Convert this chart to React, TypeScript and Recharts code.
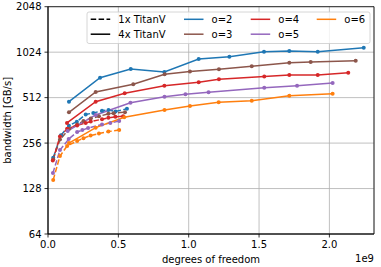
import React from 'react';
import { LineChart, Line, XAxis, YAxis, CartesianGrid, Label, ReferenceArea } from 'recharts';

const FONT = '"DejaVu Sans", sans-serif';

// degrees of freedom in units of 1e9, bandwidth in GB/s
const O2_4X_DOF = [0.149, 0.37, 0.588, 0.827, 1.071, 1.289, 1.535, 1.715, 1.917, 2.244];
const O2_4X_BW = [481, 694, 792, 757, 922, 955, 1031, 1042, 1031, 1096];
const O2_1X_DOF = [0.037, 0.092, 0.149, 0.205, 0.268, 0.322, 0.384, 0.43, 0.48, 0.561];
const O2_1X_BW = [205, 288, 334, 355, 396, 405, 419, 424, 415, 432];

const O3_4X_DOF = [0.149, 0.339, 0.606, 0.829, 1.009, 1.215, 1.448, 1.715, 1.867, 2.187];
const O3_4X_BW = [409, 558, 627, 731, 762, 790, 825, 872, 881, 899];
const O3_1X_DOF = [0.037, 0.085, 0.151, 0.207, 0.252, 0.304, 0.362, 0.429, 0.467, 0.547];
const O3_1X_BW = [200, 270, 318, 340, 358, 372, 385, 400, 404, 410];

const O4_4X_DOF = [0.135, 0.339, 0.545, 0.827, 1.071, 1.215, 1.537, 1.715, 1.917, 2.134];
const O4_4X_BW = [348, 481, 548, 614, 647, 678, 706, 723, 723, 749];
const O4_1X_DOF = [0.034, 0.085, 0.136, 0.207, 0.268, 0.304, 0.384, 0.429, 0.479, 0.534];
const O4_1X_BW = [196, 283, 318, 335, 348, 356, 368, 376, 382, 386];

const O5_4X_DOF = [0.14, 0.339, 0.586, 0.828, 0.977, 1.141, 1.537, 1.77, 2.023];
const O5_4X_BW = [308, 393, 474, 519, 539, 555, 596, 614, 640];
const O5_1X_DOF = [0.035, 0.085, 0.147, 0.207, 0.244, 0.285, 0.384, 0.443, 0.506];
const O5_1X_BW = [162, 230, 272, 303, 312, 322, 340, 348, 358];

const O6_4X_DOF = [0.149, 0.339, 0.542, 0.828, 1.009, 1.213, 1.448, 1.715, 2.023];
const O6_4X_BW = [256, 324, 379, 424, 450, 477, 488, 527, 543];
const O6_1X_DOF = [0.037, 0.085, 0.136, 0.207, 0.252, 0.303, 0.362, 0.429, 0.506];
const O6_1X_BW = [146, 210, 245, 264, 276, 287, 296, 305, 312];

const ORDER_NAMES = ['o=2', 'o=3', 'o=4', 'o=5', 'o=6'];
const ORDER_COLORS = ['#1f77b4', '#8c564b', '#d62728', '#9467bd', '#ff7f0e'];
const STYLE_NAMES = ['1x TitanV', '4x TitanV'];

const X_TICKS = [0, 0.5, 1.0, 1.5, 2.0];
const Y_TICKS = [64, 128, 256, 512, 1024, 2048];
const X_DOMAIN: [number, number] = [0, 2.317];
const Y_DOMAIN: [number, number] = [64, 2048];

const zip = (xs: number[], ys: number[]) => xs.map((x, i) => ({ dof: x, bw: ys[i] }));

const SERIES = [
  { four: zip(O2_4X_DOF, O2_4X_BW), one: zip(O2_1X_DOF, O2_1X_BW) },
  { four: zip(O3_4X_DOF, O3_4X_BW), one: zip(O3_1X_DOF, O3_1X_BW) },
  { four: zip(O4_4X_DOF, O4_4X_BW), one: zip(O4_1X_DOF, O4_1X_BW) },
  { four: zip(O5_4X_DOF, O5_4X_BW), one: zip(O5_1X_DOF, O5_1X_BW) },
  { four: zip(O6_4X_DOF, O6_4X_BW), one: zip(O6_1X_DOF, O6_1X_BW) },
].map((s, i) => ({ ...s, name: ORDER_NAMES[i], color: ORDER_COLORS[i] }));

const DASH = '5.5 2.4';
const textStyle = { fill: '#000', fontSize: 10, fontFamily: FONT };

function LegendOverlay() {
  const handle = 19.5;
  const rows = [19.3, 34.2];
  const entries: { x: number; row: number; label: string; color: string; dash?: string }[] = [
    { x: 90.7, row: 0, label: STYLE_NAMES[0], color: '#000', dash: DASH },
    { x: 90.7, row: 1, label: STYLE_NAMES[1], color: '#000' },
    { x: 184, row: 0, label: ORDER_NAMES[0], color: ORDER_COLORS[0] },
    { x: 184, row: 1, label: ORDER_NAMES[1], color: ORDER_COLORS[1] },
    { x: 250.7, row: 0, label: ORDER_NAMES[2], color: ORDER_COLORS[2] },
    { x: 250.7, row: 1, label: ORDER_NAMES[3], color: ORDER_COLORS[3] },
    { x: 316.7, row: 0, label: ORDER_NAMES[4], color: ORDER_COLORS[4] },
  ];
  return (
    <svg width={381} height={267} style={{ position: 'absolute', left: 0, top: 0, pointerEvents: 'none' }}>
      <rect x={87} y={12} width={283} height={31.5} rx={2} fill="#fff" fillOpacity={0.8} stroke="#cccccc" strokeWidth={0.8} />
      {entries.map((e, i) => (
        <g key={i}>
          <line x1={e.x} x2={e.x + handle} y1={rows[e.row]} y2={rows[e.row]} stroke={e.color} strokeWidth={1.5} strokeDasharray={e.dash} />
          <text x={e.x + 27.6} y={rows[e.row]} dominantBaseline="central" fontSize={10} fontFamily={FONT} fill="#000">
            {e.label}
          </text>
        </g>
      ))}
      <text x={374} y={258} dominantBaseline="central" textAnchor="end" fontSize={10} fontFamily={FONT} fill="#000">
        1e9
      </text>
    </svg>
  );
}

export default function App() {
  return (
    <div style={{ position: 'fixed', left: 0, top: 0, width: 381, height: 267, background: '#fff' }}>
      <LineChart width={381} height={267} margin={{ top: 6.7, right: 7, bottom: 0, left: 0 }}>
        <CartesianGrid stroke="#b0b0b0" strokeWidth={0.8} />
        <XAxis
          type="number"
          dataKey="dof"
          domain={X_DOMAIN}
          ticks={X_TICKS}
          interval={0}
          allowDataOverflow
          tickFormatter={(v: number) => v.toFixed(1)}
          height={33}
          tickSize={3.5}
          tickMargin={3}
          axisLine={{ stroke: '#000', strokeWidth: 0.8 }}
          tickLine={{ stroke: '#000', strokeWidth: 0.8 }}
          tick={textStyle}
        >
          <Label value="degrees of freedom" position="insideBottom" offset={4} style={textStyle} />
        </XAxis>
        <YAxis
          type="number"
          dataKey="bw"
          scale="log"
          domain={Y_DOMAIN}
          ticks={Y_TICKS}
          interval={0}
          allowDataOverflow
          width={48}
          tickSize={3.5}
          tickMargin={3}
          axisLine={{ stroke: '#000', strokeWidth: 0.8 }}
          tickLine={{ stroke: '#000', strokeWidth: 0.8 }}
          tick={textStyle}
        >
          <Label value="bandwidth [GB/s]" angle={-90} position="insideLeft" offset={7.5} style={{ ...textStyle, textAnchor: 'middle' }} />
        </YAxis>
        {SERIES.map((s) => (
          <Line
            key={s.name + '-1x'}
            data={s.one}
            dataKey="bw"
            stroke={s.color}
            strokeWidth={1.5}
            strokeDasharray={DASH}
            dot={{ r: 2, fill: s.color, stroke: s.color, strokeWidth: 0, strokeDasharray: '' }}
            activeDot={false}
            isAnimationActive={false}
          />
        ))}
        {SERIES.map((s) => (
          <Line
            key={s.name + '-4x'}
            data={s.four}
            dataKey="bw"
            stroke={s.color}
            strokeWidth={1.5}
            dot={{ r: 2, fill: s.color, stroke: s.color, strokeWidth: 0 }}
            activeDot={false}
            isAnimationActive={false}
          />
        ))}
        <ReferenceArea x1={X_DOMAIN[0]} x2={X_DOMAIN[1]} y1={Y_DOMAIN[0]} y2={Y_DOMAIN[1]} fill="none" stroke="#000" strokeWidth={0.8} ifOverflow="visible" />
      </LineChart>
      <LegendOverlay />
    </div>
  );
}
